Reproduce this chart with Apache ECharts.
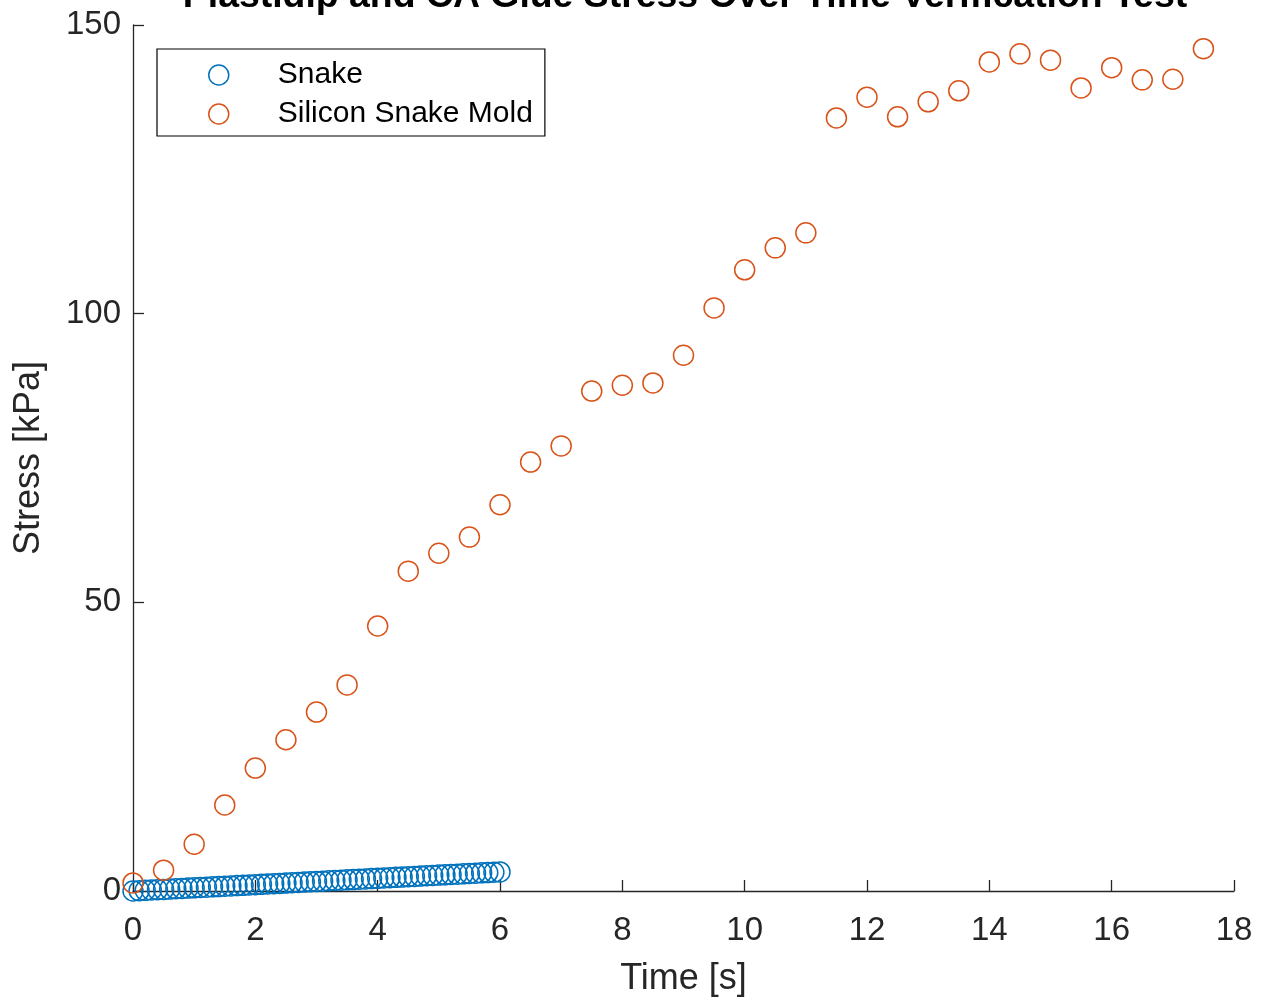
<!DOCTYPE html>
<html>
<head>
<meta charset="utf-8">
<script src="https://cdn.jsdelivr.net/npm/echarts@6/dist/echarts.min.js"></script>
<style>
html,body{margin:0;padding:0;background:#fff;}
#chart{width:1268px;height:1003px;}
</style>
</head>
<body>
<div id="chart"></div>
<script>
const titleText = 'Plastidip and CA Glue Stress Over Time Verification Test';
const xTicks = [0, 2, 4, 6, 8, 10, 12, 14, 16, 18];
const yTicks = [0, 50, 100, 150];

const snakeTime = [0.0,0.1,0.2,0.3,0.4,0.5,0.6,0.7,0.8,0.9,1.0,1.1,1.2,1.3,1.4,1.5,1.6,1.7,1.8,1.9,
  2.0,2.1,2.2,2.3,2.4,2.5,2.6,2.7,2.8,2.9,3.0,3.1,3.2,3.3,3.4,3.5,3.6,3.7,3.8,3.9,
  4.0,4.1,4.2,4.3,4.4,4.5,4.6,4.7,4.8,4.9,5.0,5.1,5.2,5.3,5.4,5.5,5.6,5.7,5.8,5.9,6.0];
const snakeStress = [0.00,0.06,0.11,0.17,0.22,0.28,0.33,0.39,0.44,0.50,0.55,0.61,0.66,0.72,0.77,0.83,0.88,0.94,0.99,1.05,
  1.10,1.16,1.21,1.27,1.32,1.38,1.43,1.49,1.54,1.60,1.65,1.71,1.76,1.82,1.87,1.93,1.98,2.04,2.09,2.15,
  2.20,2.26,2.31,2.37,2.42,2.48,2.53,2.59,2.64,2.70,2.75,2.81,2.86,2.92,2.97,3.03,3.08,3.14,3.19,3.25,3.30];

const moldTime = [0,0.5,1,1.5,2,2.5,3,3.5,4,4.5,5,5.5,6,6.5,7,7.5,8,8.5,9,9.5,10,10.5,11,11.5,12,12.5,13,13.5,14,14.5,15,15.5,16,16.5,17,17.5];
const moldStress = [1.4,3.6,8.1,14.9,21.3,26.2,31.0,35.7,45.9,55.4,58.5,61.3,66.9,74.3,77.1,86.6,87.6,88.0,92.8,101.0,107.6,111.4,114.0,133.9,137.5,134.1,136.7,138.6,143.6,145.0,143.9,139.1,142.6,140.5,140.6,145.9];

const seriesNames = ['Snake', 'Silicon Snake Mold'];
const colors = ['#0072BD', '#D95319'];

const zip = (a, b) => a.map((v, i) => [v, b[i]]);

const chart = echarts.init(document.getElementById('chart'), null, {renderer: 'canvas'});
const font = 'Liberation Sans, Arial, Helvetica, sans-serif';
const axisColor = '#262626';

chart.setOption({
  animation: false,
  backgroundColor: '#fff',
  textStyle: {fontFamily: font},
  graphic: [{
    type: 'text', x: 685, y: -3,
    style: {text: titleText, font: 'bold 37.4px ' + font, fill: '#000', textAlign: 'center', textVerticalAlign: 'middle'}
  }],
  grid: {left: 133, right: 34, top: 25, bottom: 112, containLabel: false},
  legend: {
    orient: 'vertical', left: 157, top: 49,
    padding: [11, 12, 7, 51],
    itemGap: 9,
    itemWidth: 20, itemHeight: 20,
    backgroundColor: '#fff',
    borderColor: '#000', borderWidth: 1.2, borderRadius: 0,
    textStyle: {fontFamily: font, fontSize: 30, color: '#000', padding: [0, 0, 0, 44]},
    data: seriesNames.map((n, i) => ({
      name: n, icon: 'circle',
      itemStyle: {color: 'rgba(0,0,0,0)', borderColor: colors[i], borderWidth: 1.5}
    }))
  },
  xAxis: {
    type: 'value', min: xTicks[0], max: xTicks[xTicks.length - 1], interval: 2,
    name: 'Time [s]', nameLocation: 'middle', nameGap: 70,
    nameTextStyle: {fontFamily: font, fontSize: 36, color: axisColor},
    axisLine: {show: true, onZero: false, lineStyle: {color: axisColor, width: 1.3}},
    axisTick: {show: true, inside: true, length: 11, lineStyle: {color: axisColor, width: 1.3}},
    axisLabel: {fontFamily: font, fontSize: 33, color: axisColor, margin: 23},
    splitLine: {show: false}
  },
  yAxis: {
    type: 'value', min: yTicks[0], max: yTicks[yTicks.length - 1], interval: 50,
    name: 'Stress [kPa]', nameLocation: 'middle', nameGap: 86,
    nameTextStyle: {fontFamily: font, fontSize: 36, color: axisColor},
    axisLine: {show: true, onZero: false, lineStyle: {color: axisColor, width: 1.3}},
    axisTick: {show: true, inside: true, length: 11, lineStyle: {color: axisColor, width: 1.3}},
    axisLabel: {fontFamily: font, fontSize: 33, color: axisColor, margin: 12},
    splitLine: {show: false}
  },
  series: [
    {
      name: seriesNames[0], type: 'scatter', symbol: 'circle', symbolSize: 20,
      data: zip(snakeTime, snakeStress),
      itemStyle: {color: 'rgba(0,0,0,0)', borderColor: colors[0], borderWidth: 1.5, opacity: 1},
      z: 3
    },
    {
      name: seriesNames[1], type: 'scatter', symbol: 'circle', symbolSize: 20,
      data: zip(moldTime, moldStress),
      itemStyle: {color: 'rgba(0,0,0,0)', borderColor: colors[1], borderWidth: 1.5, opacity: 1},
      z: 4
    }
  ]
});
</script>
</body>
</html>
